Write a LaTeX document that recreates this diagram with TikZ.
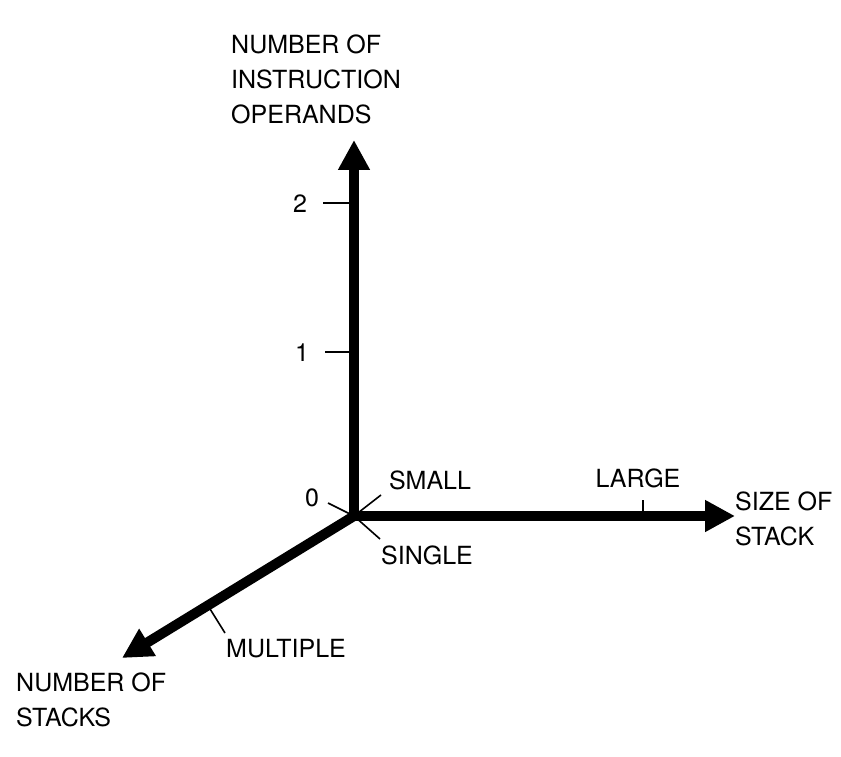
\documentclass[tikz,border=0pt]{standalone}
\usepackage{fontspec}
\setmainfont{TeX Gyre Heros}
\usetikzlibrary{arrows.meta,calc}
\tikzset{
  % ---- axes -------------------------------------------------------------
  axis/.style={-{Triangle[length=30pt,width=30pt]}, line width=10pt, draw=black},
  tick/.style={line width=1.6pt, draw=black},
  % ---- labels -----------------------------------------------------------
  lbl/.style={font=\fontsize{25}{35}\selectfont, inner sep=0pt, align=center},
  albl/.style={lbl, align=left, anchor=west},
}

\begin{document}
\begin{tikzpicture}[x=1pt,y=-1pt]
\useasboundingbox (0,0) rectangle (841,757);

% origin and axis ends
\coordinate (O)     at (354,516);
\coordinate (uptip) at (354,140);
\coordinate (rtip)  at (735,516);
\coordinate (dtip)  at (122,658);

\draw[axis] (O) -- (uptip);
\draw[axis] (O) -- (rtip);
\draw[axis] (O) -- (dtip);

% ============================ vertical axis ================================
\node[albl] (opn) at (231,79) {NUMBER OF\\INSTRUCTION\\OPERANDS};
\coordinate (t2) at (354,203);
\coordinate (t1) at (354,352);
\node[lbl] (n2) at (300,204) {2};
\node[lbl] (n1) at (302,353) {1};
\node[lbl] (n0) at (312,498) {0};
\draw[tick] (t2) -- +(-31,0);
\draw[tick] (t1) -- +(-29,0);
\draw[tick] (O) -- (328,503);

% ============================ horizontal axis ==============================
\node[albl] (sos) at (735,519) {SIZE OF\\STACK};
\node[lbl] (small) at (430,480) {SMALL};
\node[lbl] (large) at (638,478) {LARGE};
\draw[tick] (O) -- (381,495);
\coordinate (tl) at (643,516);
\draw[tick] (tl) -- +(0,-16);

% ============================ diagonal axis ================================
\node[albl] (nos) at (16,700) {NUMBER OF\\STACKS};
\node[lbl] (single) at (427,555) {SINGLE};
\node[lbl] (mult) at (286,649) {MULTIPLE};
\draw[tick] (O) -- (380,539);
\coordinate (tm) at ($(O)!0.63!(dtip)$);
\draw[tick] (tm) -- (225,633);

\end{tikzpicture}
\end{document}
